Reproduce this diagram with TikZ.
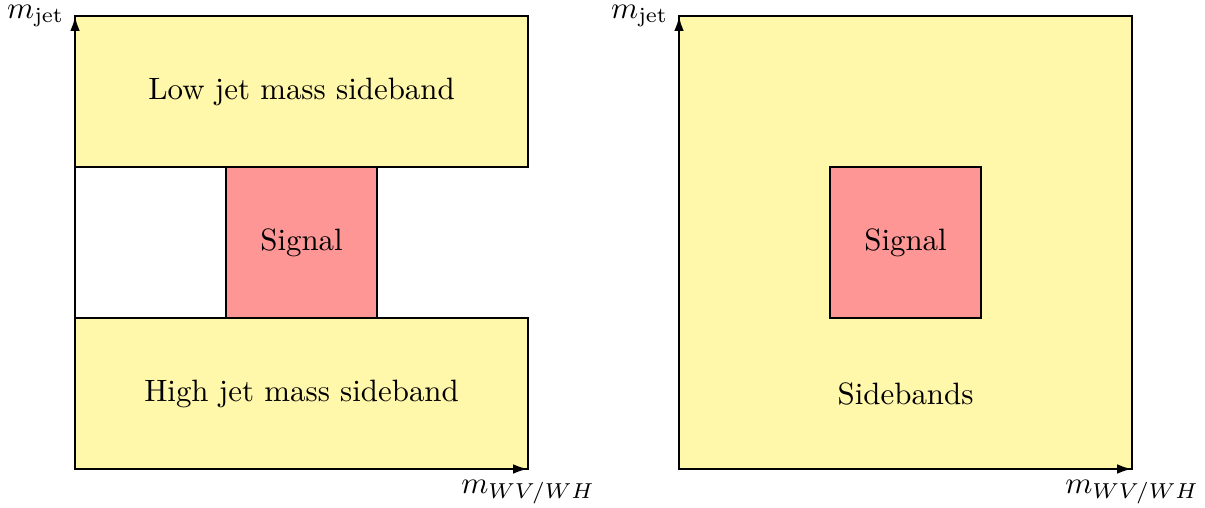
\documentclass[tikz,border=0pt]{standalone}
\usepackage{amsmath,amssymb}
\usepackage{xcolor}
\usepackage{tikz}
\usetikzlibrary{arrows.meta,positioning,calc}
\definecolor{sideband}{RGB}{255,247,170}
\definecolor{signal}{RGB}{255,150,150}

\begin{document}
\begin{tikzpicture}[
    x=1.718cm,y=1.718cm,
    region/.style={draw=black,fill=#1,line width=0.4pt},
    label/.style={align=center},
    axis/.style={-{Latex[length=1.7mm,width=1.1mm]},thick}
]
\useasboundingbox (-0.497,-0.258) rectangle (7.483,3.106);

% left panel
\draw[region=sideband] (0,2) rectangle (3,3);
\draw[region=sideband] (0,0) rectangle (3,1);
\draw[region=signal] (1,1) rectangle (2,2);
\node[label] (low) at (1.5,2.5) {Low jet mass sideband};
\node[label] (high) at (1.5,0.5) {High jet mass sideband};
\node[label] (sigL) at (1.5,1.5) {Signal};

\coordinate (oL) at (0,0);
\coordinate (xL) at (3,0);
\coordinate (yL) at (0,3);
\draw[axis] (oL) -- (xL);
\draw[axis] (oL) -- (yL);
\node[left] (mjetL) at (yL) {$m_{\text{jet}}$};
\node[below] (mvvL) at (xL) {$m_{WV/WH}$};

% right panel
\draw[region=sideband] (4,0) rectangle (7,3);
\draw[region=signal] (5,1) rectangle (6,2);
\node[label] (sigR) at (5.5,1.5) {Signal};
\node[label] (side) at (5.5,0.5) {Sidebands};

\coordinate (oR) at (4,0);
\coordinate (xR) at (7,0);
\coordinate (yR) at (4,3);
\draw[axis] (oR) -- (xR);
\draw[axis] (oR) -- (yR);
\node[left] (mjetR) at (yR) {$m_{\text{jet}}$};
\node[below] (mvvR) at (xR) {$m_{WV/WH}$};

\end{tikzpicture}
\end{document}
